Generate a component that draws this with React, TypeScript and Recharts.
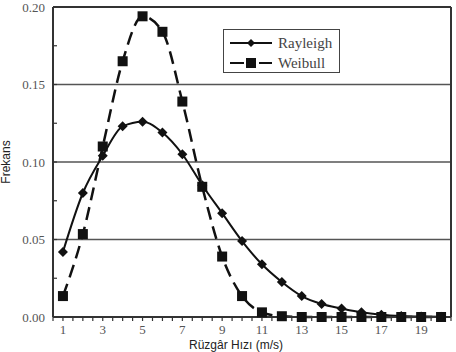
import React from "react"
import { LineChart, Line, XAxis, YAxis, ReferenceLine } from "recharts"

// wind speed (m/s)
const speeds = [1, 2, 3, 4, 5, 6, 7, 8, 9, 10, 11, 12, 13, 14, 15, 16, 17, 18, 19, 20]
const rayleigh = [0.042, 0.08, 0.104, 0.123, 0.126, 0.119, 0.105, 0.085, 0.067, 0.049, 0.034, 0.0226, 0.0135, 0.0084, 0.0055, 0.003, 0.0015, 0.0007, 0.0003, 0.0001]
const weibull = [0.0135, 0.0535, 0.11, 0.165, 0.194, 0.184, 0.139, 0.084, 0.039, 0.0135, 0.003, 0.0005, 0, 0, 0, 0, 0, 0, 0, 0]
const xTicks = Array.from({ length: 41 }, (_, i) => 0.5 + i * 0.5)
const yTicks = [0, 0.025, 0.05, 0.075, 0.1, 0.125, 0.15, 0.175, 0.2]
const gridValues = [0.05, 0.1, 0.15]

const data = speeds.map((s, i) => ({ speed: s, rayleigh: rayleigh[i], weibull: weibull[i] }))

const serif = "'Liberation Serif', 'DejaVu Serif', serif"
const sans = "'Liberation Sans', Arial, sans-serif"

const Diamond = (props: any) => {
  const { cx, cy } = props
  if (cx == null || cy == null) return null
  return <polygon points={`${cx},${cy - 5} ${cx + 5},${cy} ${cx},${cy + 5} ${cx - 5},${cy}`} fill="#111" />
}

const Square = (props: any) => {
  const { cx, cy } = props
  if (cx == null || cy == null) return null
  return <rect x={cx - 5} y={cy - 5} width={10} height={10} fill="#111" />
}

const YTick = (props: any) => {
  const { x, y, payload } = props
  const v = payload.value
  const major = Math.abs(v * 20 - Math.round(v * 20)) < 1e-6
  return (
    <g>
      <line x1={x} x2={x + 4} y1={y} y2={y} stroke="#333" strokeWidth={1.2} />
      {major && (
        <text x={x - 8} y={y} dy="0.35em" textAnchor="end" fontFamily={serif} fontSize={13} fill="#555">
          {v.toFixed(2)}
        </text>
      )}
    </g>
  )
}

function Legend() {
  return (
    <div
      style={{
        position: "absolute",
        left: 223,
        top: 29,
        width: 117,
        height: 44,
        boxSizing: "border-box",
        border: "1.5px solid #444",
        background: "#fff",
      }}
    >
      <svg width={115} height={42} style={{ position: "absolute", left: 0, top: 0 }}>
        <line x1={6} x2={48} y1={13} y2={13} stroke="#111" strokeWidth={2} />
        <polygon points="27,9 31,13 27,17 23,13" fill="#111" />
        <text x={54} y={18} fontFamily={serif} fontSize={15} fill="#444">Rayleigh</text>
        <line x1={6} x2={20} y1={33} y2={33} stroke="#111" strokeWidth={2} />
        <rect x={22} y={28} width={10} height={10} fill="#111" />
        <line x1={35} x2={48} y1={33} y2={33} stroke="#111" strokeWidth={2} />
        <text x={54} y={38} fontFamily={serif} fontSize={15} fill="#444">Weibull</text>
      </svg>
    </div>
  )
}

export default function App() {
  return (
    <div style={{ position: "absolute", left: 0, top: 0, width: 456, height: 352, background: "#fff", overflow: "hidden" }}>
      <LineChart width={456} height={352} data={data} margin={{ top: 7, right: 5, left: 0, bottom: 0 }}>
        <XAxis
          dataKey="speed"
          type="number"
          domain={[0.5, 20.5]}
          ticks={xTicks}
          interval={0}
          height={35}
          tickSize={4}
          tickMargin={4}
          stroke="#333"
          axisLine={{ stroke: "#333", strokeWidth: 2 }}
          tickLine={{ stroke: "#333", strokeWidth: 1.2 }}
          tick={{ fontFamily: serif, fontSize: 13, fill: "#555" }}
          tickFormatter={(v: number) => (Number.isInteger(v) && v % 2 === 1 ? String(v) : "")}
          label={{
            content: () => (
              <text x={236} y={349} textAnchor="middle" fontFamily={sans} fontSize={12} fill="#222">
                Rüzgâr Hızı (m/s)
              </text>
            ),
          }}
        />
        <YAxis
          type="number"
          domain={[0, 0.2]}
          ticks={yTicks}
          interval={0}
          width={53}
          tickSize={0}
          tickMargin={0}
          axisLine={{ stroke: "#333", strokeWidth: 2 }}
          tickLine={false}
          tick={<YTick />}
          label={{
            content: () => (
              <text x={10} y={162} transform="rotate(-90 10 162)" textAnchor="middle" fontFamily={sans} fontSize={12} fill="#222">
                Frekans
              </text>
            ),
          }}
        />
        {gridValues.map((g) => (
          <ReferenceLine key={g} y={g} stroke="#555" strokeWidth={1.5} />
        ))}
        <ReferenceLine y={0.2} stroke="#333" strokeWidth={2} />
        <ReferenceLine x={20.5} stroke="#333" strokeWidth={2} />
        <Line
          type="monotone"
          dataKey="weibull"
          stroke="#111"
          strokeWidth={2.5}
          strokeDasharray="13 7"
          dot={<Square />}
          activeDot={false}
          isAnimationActive={false}
        />
        <Line
          type="monotone"
          dataKey="rayleigh"
          stroke="#111"
          strokeWidth={2}
          dot={<Diamond />}
          activeDot={false}
          isAnimationActive={false}
        />
      </LineChart>
      <Legend />
    </div>
  )
}
